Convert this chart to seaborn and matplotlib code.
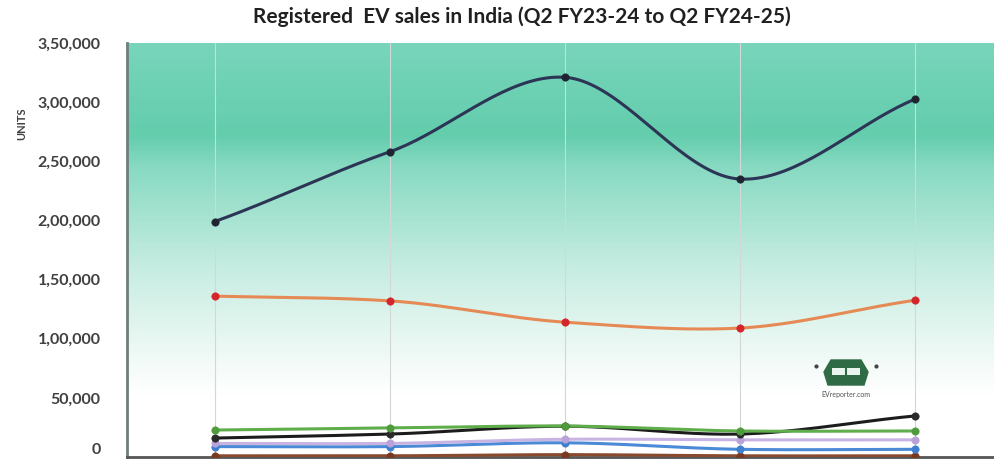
import numpy as np
import pandas as pd
import matplotlib
matplotlib.use("Agg")
import matplotlib.pyplot as plt
from matplotlib.colors import LinearSegmentedColormap
from matplotlib.patches import Polygon
import seaborn as sns

# Quarterly registered EV sales (units)
quarters = ["Q2 FY23-24", "Q3 FY23-24", "Q4 FY23-24", "Q1 FY24-25", "Q2 FY24-25"]
e2w = [199000, 258000, 321000, 235000, 302500]
e3w_l3 = [136000, 132000, 114000, 109000, 132500]
e4w = [22800, 24500, 26200, 22000, 22000]
e3w_l5 = [16000, 19400, 26000, 19400, 34700]
e_cargo = [11500, 11500, 15000, 14500, 14500]
e_bus = [8800, 8800, 12000, 6500, 6500]
others = [1000, 1000, 2000, 1000, 1000]

series = {
    "E2W": (e2w, "#2c3555", "#1f2433"),
    "E3W L3": (e3w_l3, "#e58a55", "#d3252a"),
    "E4W": (e4w, "#5fae4b", "#4f9a3d"),
    "E3W L5": (e3w_l5, "#1c1c1c", "#2a2a2a"),
    "Cargo": (e_cargo, "#c8b4e2", "#b9a2d8"),
    "Bus": (e_bus, "#4a8ad6", "#3f7fcf"),
    "Others": (others, "#8a4a2e", "#7a3a22"),
}

rows = []
for name, (vals, _, _) in series.items():
    for i, (q, v) in enumerate(zip(quarters, vals)):
        rows.append({"series": name, "quarter": q, "pos": i, "units": v})
df = pd.DataFrame(rows)


def smooth(x, y, n=40, tension=0.85):
    """Cubic Hermite curve through the given points (scaled Catmull-Rom tangents)."""
    x = np.asarray(x, float)
    y = np.asarray(y, float)
    m = np.zeros_like(y)
    m[1:-1] = (y[2:] - y[:-2]) / 2 * tension
    m[0] = (y[1] - y[0]) * 0.9
    m[-1] = (y[-1] - y[-2]) * 0.9
    t = np.linspace(0, 1, n)
    h00 = 2 * t ** 3 - 3 * t ** 2 + 1
    h10 = t ** 3 - 2 * t ** 2 + t
    h01 = -2 * t ** 3 + 3 * t ** 2
    h11 = t ** 3 - t ** 2
    xs, ys = [], []
    for i in range(len(x) - 1):
        xs.append(x[i] + (x[i + 1] - x[i]) * t)
        ys.append(h00 * y[i] + h10 * m[i] + h01 * y[i + 1] + h11 * m[i + 1])
    return np.concatenate(xs), np.concatenate(ys)


sns.set_style("white")
plt.rcParams["font.family"] = ["Lato", "DejaVu Sans"]

W, H = 995, 459
fig = plt.figure(figsize=(W / 100, H / 100), dpi=100)
left, right, top, bottom = 127, 1002.5, 43, 457
ax = fig.add_axes([left / W, (H - bottom) / H, (right - left) / W, (bottom - top) / H])

ymax = 350000
ax.set_xlim(-0.5, 4.5)
ax.set_ylim(0, ymax)

# Gradient panel background
grad = LinearSegmentedColormap.from_list(
    "panel",
    [(0.0, "#78d5bb"), (0.22, "#63cdac"), (0.30, "#88dac2"),
     (0.55, "#c8ede2"), (0.78, "#f4fbf8"), (0.85, "#ffffff"), (1.0, "#ffffff")],
)
ax.imshow(np.linspace(0, 1, 256).reshape(-1, 1), cmap=grad, aspect="auto",
          extent=(-0.5, 4.5, 0, ymax), origin="upper", zorder=0)

# Vertical grid lines at each quarter
for i in range(len(quarters)):
    ax.axvline(i, color="#d3d7d8", lw=0.8, zorder=1)

order = ["Others", "Bus", "Cargo", "E3W L5", "E4W", "E3W L3", "E2W"]
for name in order:
    vals, lc, mc = series[name]
    sub = df[df["series"] == name]
    sx, sy = smooth(sub["pos"], sub["units"])
    ax.plot(sx, sy, color=lc, lw=2.2, solid_capstyle="round", zorder=3)
    sns.scatterplot(data=sub, x="pos", y="units", color=mc, s=28,
                    edgecolor=mc, linewidth=0.5, ax=ax, zorder=4, legend=False)

# Axes styling
for s in ("top", "right"):
    ax.spines[s].set_visible(False)
ax.spines["left"].set_color("#6f7d7c")
ax.spines["left"].set_linewidth(2)
ax.spines["bottom"].set_color("#555555")
ax.spines["bottom"].set_linewidth(2)

yt = np.arange(0, ymax + 1, 50000)


def indian(v):
    v = int(v)
    if v < 1000:
        return str(v)
    s = str(v)
    last3 = s[-3:]
    rest = s[:-3]
    parts = []
    while len(rest) > 2:
        parts.insert(0, rest[-2:])
        rest = rest[:-2]
    if rest:
        parts.insert(0, rest)
    return ",".join(parts + [last3])


ax.set_yticks(yt)
ax.set_yticklabels([indian(v) for v in yt], fontsize=11.5, color="#404040",
                   fontweight="bold")
ax.tick_params(axis="y", direction="out", length=5, width=1.2, color="#707070", pad=14)
# the zero label sits on the bottom edge; lift it so it stays inside the canvas
zero_lbl = ax.get_yticklabels()[0]
zero_lbl.set_verticalalignment("bottom")
ax.set_xticks(np.arange(len(quarters)))
ax.set_xticklabels([])
ax.tick_params(axis="x", length=0)
ax.set_xlabel("")
ax.set_ylabel("")

fig.text(22 / W, 1 - 124 / H, "UNITS", rotation=90, ha="center", va="center",
         fontsize=8, fontweight="bold", color="#404040")
fig.text(522 / W, 1 - 17 / H,
         "Registered  EV sales in India (Q2 FY23-24 to Q2 FY24-25)",
         ha="center", va="center", fontsize=15, fontweight="bold", color="#202020")

# Small publisher mark
logo_ax = fig.add_axes([0, 0, 1, 1], facecolor="none")
logo_ax.set_xlim(0, W)
logo_ax.set_ylim(H, 0)
logo_ax.axis("off")
logo_ax.add_patch(Polygon([(824, 372), (831, 360), (861, 360), (868, 372),
                           (864, 385), (828, 385)], closed=True,
                          facecolor="#2f6b45", edgecolor="#2f6b45"))
logo_ax.add_patch(Polygon([(832, 368), (860, 368), (860, 375), (832, 375)],
                          closed=True, facecolor="#e9f5ee", edgecolor="none"))
logo_ax.plot([846, 846], [366, 378], color="#2f6b45", lw=1.5)
logo_ax.plot([816, 876], [366, 366], ls="none", marker="o", ms=2, color="#444444")
logo_ax.text(846, 394, "EVreporter.com", ha="center", va="center", fontsize=5,
             color="#555555")

fig.savefig("out.png", dpi=100)
